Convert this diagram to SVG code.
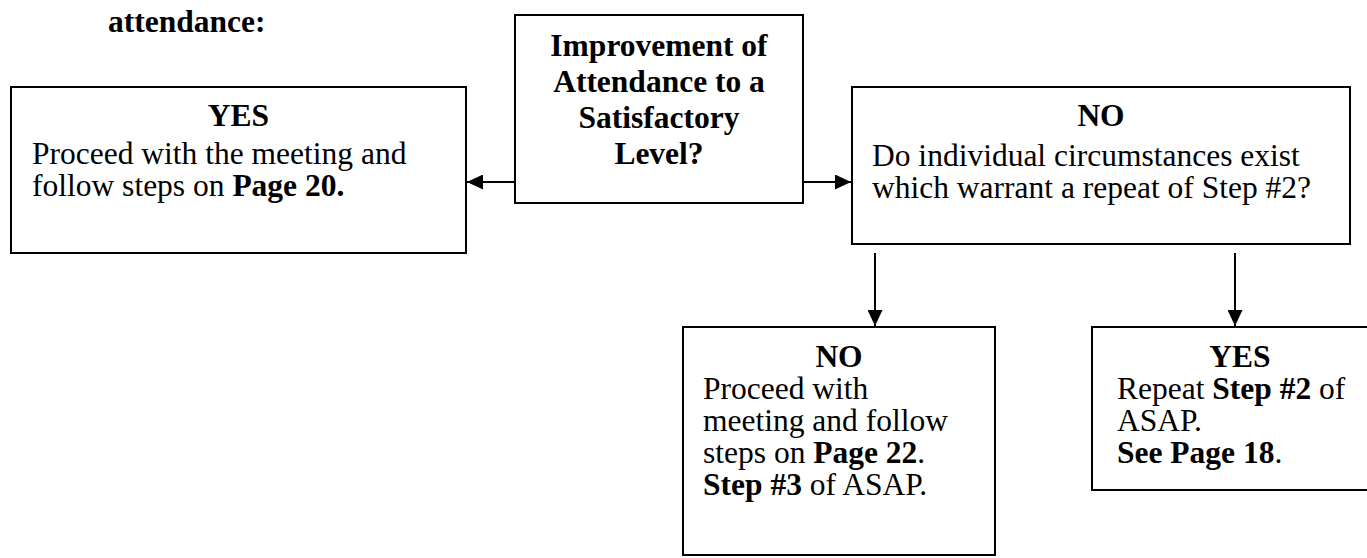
<svg xmlns="http://www.w3.org/2000/svg" width="1367" height="558" viewBox="0 0 1367 558">
  <style>
    text { font-family: "Liberation Serif", "Times New Roman", serif; font-size: 31.5px; fill: #000; }
    .b { font-weight: bold; }
    .c { text-anchor: middle; }
    .box { fill: #fff; stroke: #000; stroke-width: 2; }
    .link { stroke: #000; stroke-width: 2; fill: none; }
  </style>
  <defs>
    <marker id="arrow" markerUnits="userSpaceOnUse" markerWidth="16" markerHeight="15" refX="16" refY="7.5" orient="auto">
      <path d="M0,0 L16,7.5 L0,15 Z" fill="#000"/>
    </marker>
  </defs>

  <rect width="1367" height="558" fill="#fff"/>

  <!-- heading fragment above the chart -->
  <text class="b" x="108" y="32">attendance:</text>

  <g id="connectors">
    <line class="link" x1="515" y1="182" x2="467" y2="182" marker-end="url(#arrow)"/>
    <line class="link" x1="803" y1="182" x2="851" y2="182" marker-end="url(#arrow)"/>
    <line class="link" x1="875" y1="253" x2="875" y2="326" marker-end="url(#arrow)"/>
    <line class="link" x1="1235" y1="253" x2="1235" y2="326" marker-end="url(#arrow)"/>
  </g>

  <g id="question">
    <rect class="box" x="515" y="15" width="288" height="188"/>
    <text class="b c" x="659" y="56">Improvement of</text>
    <text class="b c" x="659" y="92">Attendance to a</text>
    <text class="b c" x="659" y="128">Satisfactory</text>
    <text class="b c" x="659" y="164">Level?</text>
  </g>

  <g id="yes-meeting">
    <rect class="box" x="11" y="87" width="455" height="166"/>
    <text class="b c" x="238.5" y="126">YES</text>
    <text x="32" y="164">Proceed with the meeting and</text>
    <text x="32" y="196">follow steps on <tspan class="b">Page 20.</tspan></text>
  </g>

  <g id="no-circumstances">
    <rect class="box" x="852" y="87" width="498" height="157"/>
    <text class="b c" x="1101" y="126">NO</text>
    <text x="872" y="166">Do individual circumstances exist</text>
    <text x="872" y="198">which warrant a repeat of Step #2?</text>
  </g>

  <g id="no-step3">
    <rect class="box" x="683" y="327" width="312" height="228"/>
    <text class="b c" x="839" y="367">NO</text>
    <text x="703" y="399">Proceed with</text>
    <text x="703" y="431">meeting and follow</text>
    <text x="703" y="463">steps on <tspan class="b">Page 22</tspan>.</text>
    <text x="703" y="495"><tspan class="b">Step #3</tspan> of ASAP.</text>
  </g>

  <g id="yes-repeat">
    <rect class="box" x="1092" y="327" width="296" height="163"/>
    <text class="b c" x="1240" y="367">YES</text>
    <text x="1117" y="399">Repeat <tspan class="b">Step #2</tspan> of</text>
    <text x="1117" y="431">ASAP.</text>
    <text x="1117" y="463"><tspan class="b">See Page 18</tspan>.</text>
  </g>
</svg>
